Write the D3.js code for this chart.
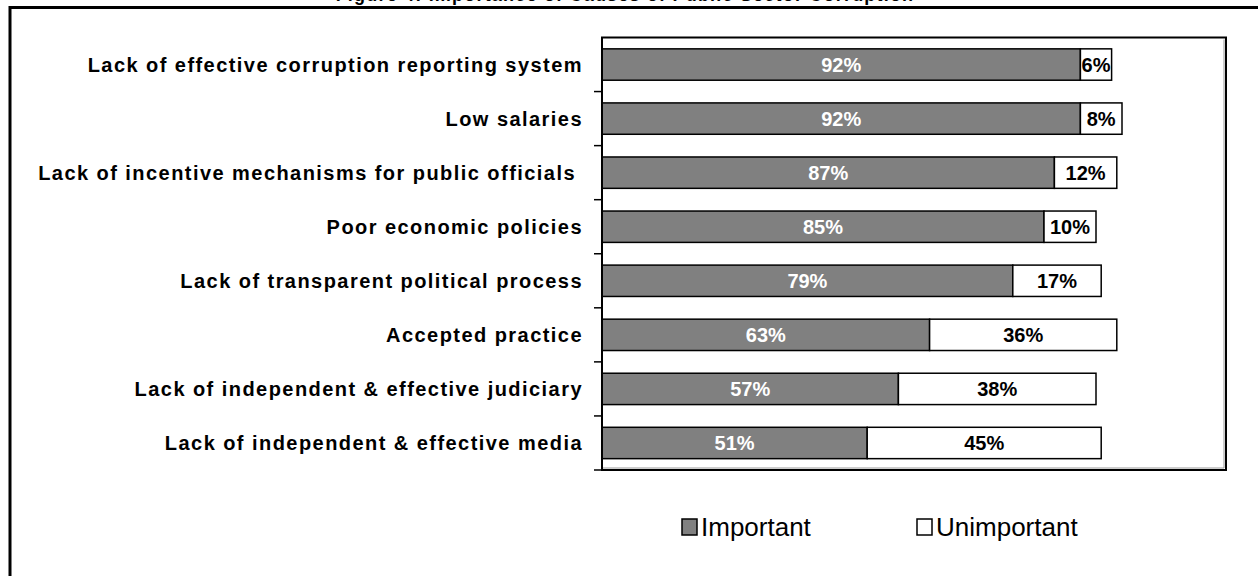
<!DOCTYPE html>
<html>
<head>
<meta charset="utf-8">
<script src="https://cdn.jsdelivr.net/npm/d3@7"></script>
<style>
  body { margin: 0; background: #fff; }
  svg { display: block; }
  text { font-family: "Liberation Sans", Arial, sans-serif; white-space: pre; }
</style>
</head>
<body>
<svg id="chart" width="1258" height="576"></svg>
<script>
// Causes of public sector corruption, share of respondents
const categories = [
  "Lack of effective corruption reporting system",
  "Low salaries",
  "Lack of incentive mechanisms for public officials ",
  "Poor economic policies",
  "Lack of transparent political process",
  "Accepted practice",
  "Lack of independent & effective judiciary",
  "Lack of independent & effective media"
];
const important   = [92, 92, 87, 85, 79, 63, 57, 51];
const unimportant = [6, 8, 12, 10, 17, 36, 38, 45];
const seriesNames = ["Important", "Unimportant"];
const titleText = "Figure 4: Importance of Causes of Public Sector Corruption";

const svg = d3.select("#chart");
const W = 1258, H = 576;
const plot = { left: 602, right: 1226, top: 37.5, bottom: 470 };

const x = d3.scaleLinear().domain([0, 120]).range([plot.left, plot.right]);
const y = d3.scaleBand()
  .domain(categories)
  .range([plot.top, plot.bottom])
  .paddingInner(0.42)
  .paddingOuter(0.21);

const fills = { Important: "#808080", Unimportant: "#ffffff" };

// Title, mostly cut off by the top edge
svg.append("text")
  .attr("x", 625).attr("y", 0.5)
  .attr("text-anchor", "middle")
  .attr("font-size", 18).attr("font-weight", "bold")
  .attr("letter-spacing", 1.2)
  .text(titleText);

// Outer frame (runs off the right and bottom edges)
svg.append("rect")
  .attr("x", 10).attr("y", 7.5)
  .attr("width", W + 20).attr("height", H + 20)
  .attr("fill", "none").attr("stroke", "#000").attr("stroke-width", 3);

// Plot area border
svg.append("rect")
  .attr("x", plot.left).attr("y", plot.top)
  .attr("width", plot.right - plot.left).attr("height", plot.bottom - plot.top)
  .attr("fill", "#fff").attr("stroke", "#000").attr("stroke-width", 2);
svg.append("path")
  .attr("d", `M${plot.right - 2},${plot.top + 2}V${plot.bottom - 2}H${plot.left}`)
  .attr("fill", "none").attr("stroke", "#999").attr("stroke-width", 1);

// Rows
const rows = categories.map((c, i) => ({ cat: c, imp: important[i], unimp: unimportant[i] }));

const g = svg.append("g");
const row = g.selectAll("g.row").data(rows).join("g").attr("class", "row");

row.append("rect")
  .attr("x", x(0))
  .attr("y", d => y(d.cat))
  .attr("width", d => x(d.imp) - x(0))
  .attr("height", y.bandwidth())
  .attr("fill", fills.Important)
  .attr("stroke", "#000").attr("stroke-width", 1.5);

row.append("rect")
  .attr("x", d => x(d.imp))
  .attr("y", d => y(d.cat))
  .attr("width", d => x(d.imp + d.unimp) - x(d.imp))
  .attr("height", y.bandwidth())
  .attr("fill", fills.Unimportant)
  .attr("stroke", "#000").attr("stroke-width", 1.5);

row.append("text")
  .attr("x", d => (x(0) + x(d.imp)) / 2)
  .attr("y", d => y(d.cat) + y.bandwidth() / 2)
  .attr("dy", "0.36em")
  .attr("text-anchor", "middle")
  .attr("font-size", 20).attr("font-weight", "bold")
  .attr("fill", "#fff")
  .text(d => d.imp + "%");

row.append("text")
  .attr("x", d => (x(d.imp) + x(d.imp + d.unimp)) / 2)
  .attr("y", d => y(d.cat) + y.bandwidth() / 2)
  .attr("dy", "0.36em")
  .attr("text-anchor", "middle")
  .attr("font-size", 20).attr("font-weight", "bold")
  .attr("fill", "#000")
  .text(d => d.unimp + "%");

// Category axis: line plus ticks at the row boundaries
const step = y.step();
const boundaries = categories.map(c => y(c) - step * y.paddingInner() / 2 + step);
const axis = svg.append("g");
axis.append("line")
  .attr("x1", plot.left).attr("x2", plot.left)
  .attr("y1", plot.top).attr("y2", plot.bottom)
  .attr("stroke", "#000").attr("stroke-width", 2);
axis.selectAll("line.tick").data(boundaries).join("line")
  .attr("class", "tick")
  .attr("x1", plot.left - 8).attr("x2", plot.left)
  .attr("y1", d => d).attr("y2", d => d)
  .attr("stroke", "#000").attr("stroke-width", 1.5);
axis.selectAll("text").data(categories).join("text")
  .attr("x", 583)
  .attr("y", d => y(d) + y.bandwidth() / 2)
  .attr("dy", "0.36em")
  .attr("text-anchor", "end")
  .attr("font-size", 20).attr("font-weight", "bold")
  .attr("letter-spacing", 1.45)
  .text(d => d);

// Legend
const legendX = [682, 917];
const legend = svg.selectAll("g.legend").data(seriesNames).join("g")
  .attr("class", "legend")
  .attr("transform", (d, i) => `translate(${legendX[i]},519)`);
legend.append("rect")
  .attr("width", 15).attr("height", 16)
  .attr("fill", d => fills[d])
  .attr("stroke", "#000").attr("stroke-width", 1.5);
legend.append("text")
  .attr("x", 19).attr("y", 17)
  .attr("font-size", 26)
  .attr("transform", "scale(1,1)")
  .text(d => d);
</script>
</body>
</html>
